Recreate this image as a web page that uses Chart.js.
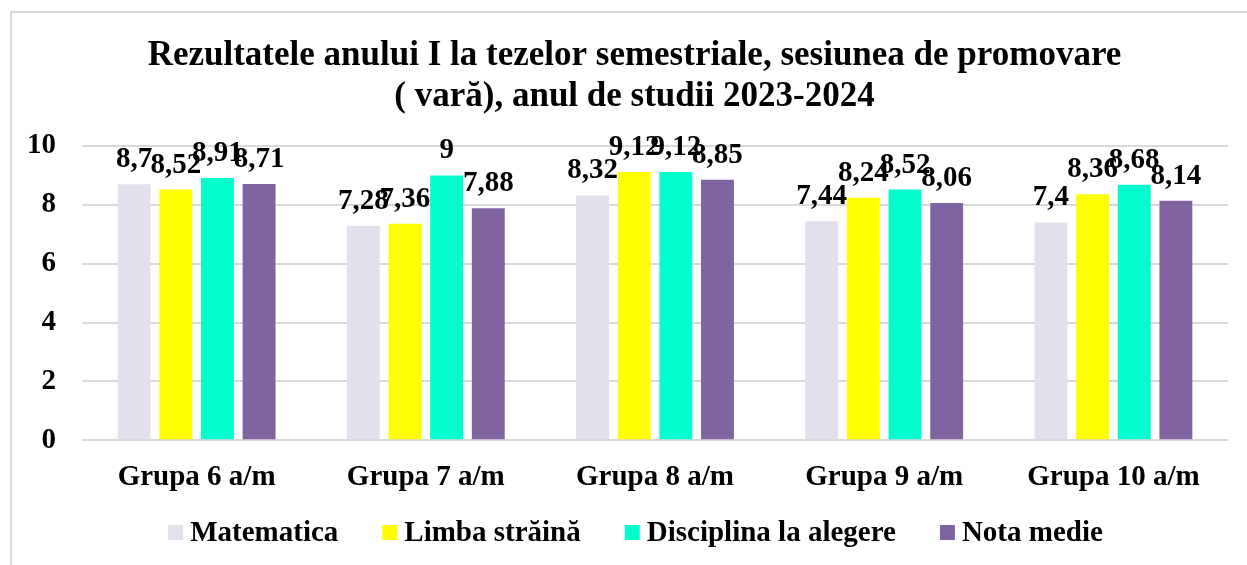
<!DOCTYPE html>
<html>
<head>
<meta charset="utf-8">
<script src="https://cdn.jsdelivr.net/npm/chart.js@4"></script>
<style>
  html, body { margin: 0; padding: 0; background: #fff; overflow: hidden; }
  #frame { position: absolute; left: 10px; top: 11px; width: 1300px; height: 700px; border: 2px solid #d9d9d9; box-sizing: border-box; }
  #wrap { position: absolute; left: 0; top: 0; width: 1247px; height: 565px; }
</style>
</head>
<body>
<div id="frame"></div>
<div id="wrap"><canvas id="chart"></canvas></div>
<script>
const titleLines = ['Rezultatele anului I la tezelor semestriale, sesiunea de promovare', '( vară), anul de studii 2023-2024'];
const categories = ['Grupa 6 a/m', 'Grupa 7 a/m', 'Grupa 8 a/m', 'Grupa 9 a/m', 'Grupa 10 a/m'];
const matematica = [8.7, 7.28, 8.32, 7.44, 7.4];
const limbaStraina = [8.52, 7.36, 9.12, 8.24, 8.36];
const disciplinaAlegere = [8.91, 9, 9.12, 8.52, 8.68];
const notaMedie = [8.71, 7.88, 8.85, 8.06, 8.14];
const yTicks = [0, 2, 4, 6, 8, 10];

const FONT = "'Liberation Serif', 'Times New Roman', serif";

// title drawn by hand so it can sit a bit right of the canvas centre, as in the original
const topTitle = {
    id: 'topTitle',
    afterDraw(chart) {
        const ctx = chart.ctx;
        ctx.save();
        ctx.font = 'bold 35px ' + FONT;
        ctx.fillStyle = '#000';
        ctx.textAlign = 'center';
        ctx.textBaseline = 'alphabetic';
        ctx.fillText(titleLines[0], 634.5, 65);
        ctx.fillText(titleLines[1], 634.5, 106);
        ctx.restore();
    }
};

// value labels above each bar, decimal comma like the original
const barLabels = {
    id: 'barLabels',
    afterDatasetsDraw(chart) {
        const ctx = chart.ctx;
        ctx.save();
        ctx.font = 'bold 29px ' + FONT;
        ctx.fillStyle = '#000';
        ctx.textAlign = 'center';
        ctx.textBaseline = 'alphabetic';
        chart.data.datasets.forEach((ds, i) => {
            chart.getDatasetMeta(i).data.forEach((bar, j) => {
                ctx.fillText(String(ds.data[j]).replace('.', ','), bar.x, bar.y - 17);
            });
        });
        ctx.restore();
    }
};

// legend drawn by hand: small squares, tight text gap, wide item gap
const bottomLegend = {
    id: 'bottomLegend',
    afterDraw(chart) {
        const ctx = chart.ctx;
        const box = 15, textGap = 7, itemGap = 44, cy = 532.5;
        ctx.save();
        ctx.font = 'bold 29px ' + FONT;
        ctx.textBaseline = 'middle';
        ctx.textAlign = 'left';
        const items = chart.data.datasets.map(ds => ({ text: ds.label, color: ds.backgroundColor, w: ctx.measureText(ds.label).width }));
        const total = items.reduce((a, it) => a + box + textGap + it.w, 0) + itemGap * (items.length - 1);
        let x = chart.width / 2 + 12 - total / 2;
        items.forEach(it => {
            ctx.fillStyle = it.color;
            ctx.fillRect(x, cy - box / 2, box, box);
            ctx.fillStyle = '#000';
            ctx.fillText(it.text, x + box + textGap, cy + 1);
            x += box + textGap + it.w + itemGap;
        });
        ctx.restore();
    }
};

new Chart(document.getElementById('chart').getContext('2d'), {
    type: 'bar',
    data: {
        labels: categories,
        datasets: [
            { label: 'Matematica', data: matematica, backgroundColor: '#e4dfec' },
            { label: 'Limba străină', data: limbaStraina, backgroundColor: '#ffff00' },
            { label: 'Disciplina la alegere', data: disciplinaAlegere, backgroundColor: '#00ffcc' },
            { label: 'Nota medie', data: notaMedie, backgroundColor: '#8064a2' }
        ]
    },
    options: {
        responsive: true, maintainAspectRatio: false, animation: false,
        categoryPercentage: 0.727, barPercentage: 0.79,
        layout: { padding: { left: 19, right: 19, top: 146, bottom: 58 } },
        plugins: {
            title: { display: false },
            legend: { display: false },
            tooltip: { enabled: false }
        },
        scales: {
            x: {
                grid: { display: false },
                border: { display: false },
                ticks: { color: '#000', padding: 12, font: { family: FONT, size: 29, weight: 'bold' } }
            },
            y: {
                min: 0, max: 10,
                afterBuildTicks: s => { s.ticks = yTicks.map(v => ({ value: v })); },
                afterFit: s => { s.width = 63; },
                grid: { color: '#d9d9d9', lineWidth: 2, drawTicks: false },
                border: { display: false },
                ticks: { color: '#000', padding: 26, font: { family: FONT, size: 29, weight: 'bold' } }
            }
        }
    },
    plugins: [topTitle, barLabels, bottomLegend]
});
</script>
</body>
</html>
